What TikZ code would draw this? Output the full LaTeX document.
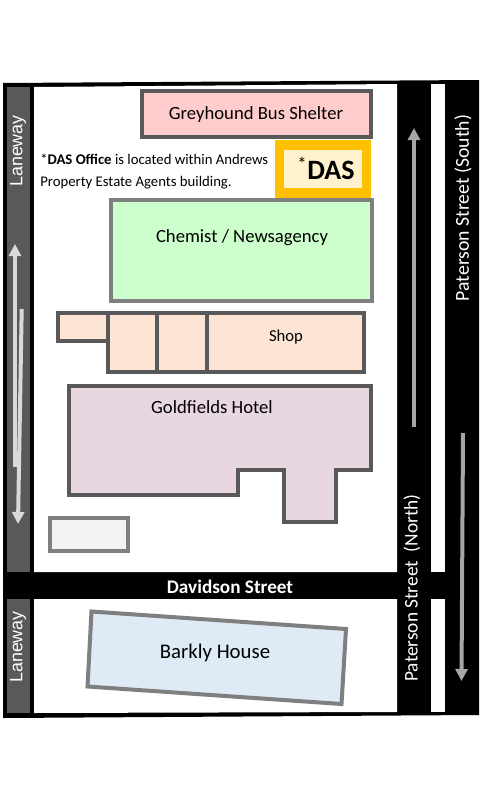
\documentclass[tikz,border=0pt]{standalone}
\usepackage{fontspec}
\setmainfont{Carlito}
\newfontfamily\lanefont{Liberation Sans}
\usetikzlibrary{arrows.meta}
\definecolor{lanegray}{HTML}{595959}
\definecolor{darkline}{HTML}{595959}
\definecolor{lightline}{HTML}{7F7F7F}
\definecolor{arrowlight}{HTML}{D9D9D9}
\definecolor{arrowdark}{HTML}{A6A6A6}
\definecolor{shelterpink}{HTML}{FFCCCC}
\definecolor{dasorange}{HTML}{FFC000}
\definecolor{dascream}{HTML}{FFF2CC}
\definecolor{chemistgreen}{HTML}{CCFFCC}
\definecolor{shoppeach}{HTML}{FDE4D5}
\definecolor{hotelmauve}{HTML}{E8D6E0}
\definecolor{shedgray}{HTML}{F2F2F2}
\definecolor{barklyblue}{HTML}{DEEAF6}

\begin{document}
\begin{tikzpicture}[x=0.75pt, y=-0.75pt, > = {Triangle[length=9pt, width=9pt]}]
    \tikzset{
      road/.style={fill=black},
      lane/.style={fill=lanegray},
      bldg/.style={draw=darkline, line width=3pt, miter limit=10},
      bldglight/.style={draw=lightline, line width=3pt},
      label/.style={inner sep=0pt, font=\fontsize{14}{16}\selectfont},
      roadname/.style={inner sep=0pt, text=white, rotate=90, font=\fontsize{14.8}{16}\selectfont},
      lanename/.style={inner sep=0pt, text=white, rotate=90, font=\lanefont\fontsize{13.4}{15}\selectfont},
      lanearrow/.style={->, line width=3pt, color=arrowlight},
      streetarrow/.style={->, line width=3pt, color=arrowdark},
    }
    \useasboundingbox (0,0) rectangle (484,792);

    % roads
    \fill[road] (3,83) -- (479,80) -- (479,715) -- (3,718) -- cycle;
    \fill[lane] (7,87) rectangle (30,572);
    \fill[lane] (7,599) rectangle (30,713);
    \fill[white] (34,87) -- (397,84) -- (397,572) -- (34,572) -- cycle;
    \fill[white] (34,599) -- (397,599) -- (397,712) -- (34,713) -- cycle;
    \fill[white] (431,84) rectangle (445,572);
    \fill[white] (431,599) rectangle (445,712);

    % buildings
    \draw[bldg, fill=shelterpink] (142,91) rectangle (371,137);
    \fill[dasorange] (275,140) rectangle (371,198);
    \fill[dascream] (284,150) rectangle (362,188);
    \draw[bldglight, fill=chemistgreen] (111,200) rectangle (372,301);
    \draw[bldg, fill=shoppeach] (58,313) -- (364,313) -- (364,372) -- (108,372) -- (108,341) -- (58,341) -- cycle;
    \draw[bldg] (108,313) -- (108,341) (157,313) -- (157,372) (207,313) -- (207,372);
    \draw[bldg, fill=hotelmauve] (69,386) -- (371,386) -- (371,470) -- (336,470) -- (336,522) -- (284,522) -- (284,470) -- (238,470) -- (238,495) -- (69,495) -- cycle;
    \draw[bldglight, fill=shedgray] (50,518) rectangle (128,551);
    \draw[bldglight, fill=barklyblue] (91.5,611.5) -- (346,629) -- (341.5,704) -- (87.5,686.5) -- cycle;

    % arrows
    \coordinate (laneup_a) at (15,467);
    \coordinate (laneup_b) at (15,244);
    \coordinate (lanedown_a) at (21.7,309);
    \coordinate (lanedown_b) at (18,524);
    \coordinate (northup_a) at (414,427);
    \coordinate (northup_b) at (414,128);
    \coordinate (southdown_a) at (463,433);
    \coordinate (southdown_b) at (461.5,681);
    \draw[lanearrow] (laneup_a) -- (laneup_b);
    \draw[lanearrow] (lanedown_a) -- (lanedown_b);
    \draw[streetarrow] (northup_a) -- (northup_b);
    \draw[streetarrow] (southdown_a) -- (southdown_b);

    % labels
    \node[label] (shelter) at (256,115) {Greyhound Bus Shelter};
    \node[label] (chemist) at (242,238) {Chemist / Newsagency};
    \node[label, font=\fontsize{12.5}{14}\selectfont] (shop) at (286,337) {Shop};
    \node[label] (hotel) at (212,407) {Goldfields Hotel};
    \node[label, font=\fontsize{15.6}{18}\selectfont] (barkly) at (215,653) {Barkly House};
    \node[label, font=\fontsize{21}{24}\selectfont\bfseries] (das) at (331,170) {DAS};
    \node[label, font=\fontsize{14}{16}\selectfont] (star) at (302,164) {*};
    \node[inner sep=0pt, anchor=north west, align=left, font=\fontsize{11.05}{16}\selectfont] (note) at (40,154)
      {*\textbf{DAS Office} is located within Andrews\\Property Estate Agents building.};
    \node[lanename] (lane_top) at (18,151) {Laneway};
    \node[lanename] (lane_bottom) at (18,647) {Laneway};
    \node[roadname] (south) at (463,208) {Paterson Street (South)};
    \node[roadname, font=\fontsize{14.5}{16}\selectfont] (north) at (412,588) {Paterson Street\ \ (North)};
    \node[inner sep=0pt, text=white, font=\fontsize{14.4}{16}\selectfont\bfseries] (davidson) at (230,587) {Davidson Street};
\end{tikzpicture}
\end{document}
